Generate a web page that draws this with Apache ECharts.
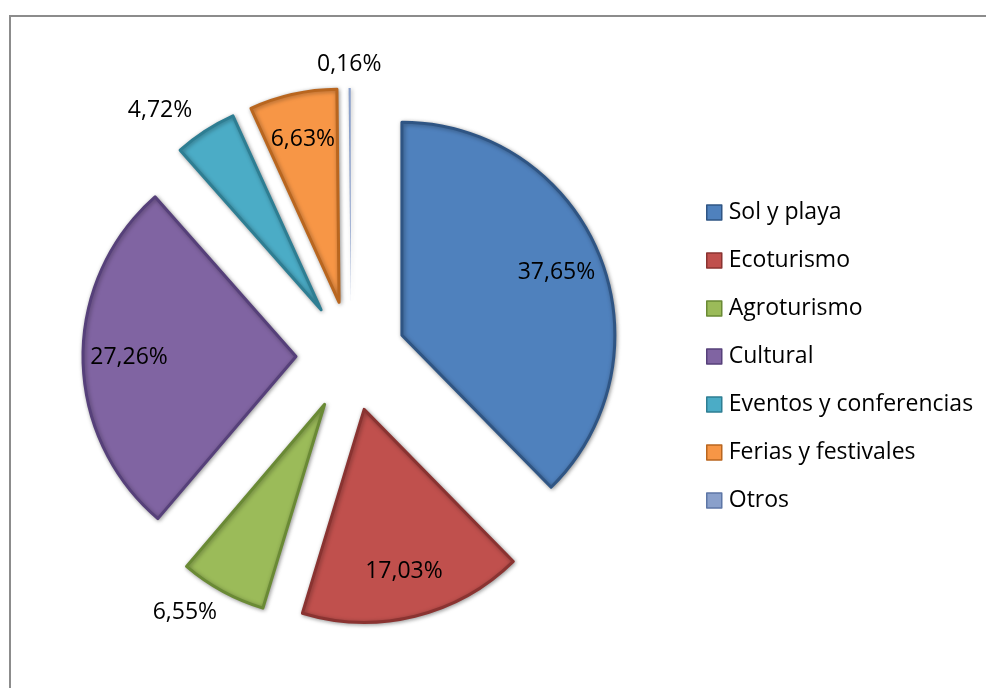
<!DOCTYPE html>
<html>
<head>
<meta charset="utf-8">
<script src="https://cdn.jsdelivr.net/npm/echarts@6/dist/echarts.min.js"></script>
<style>
  html, body { margin: 0; padding: 0; background: #ffffff; }
  #chart { width: 986px; height: 688px; }
</style>
</head>
<body>
<div id="chart"></div>
<script>
// Share of tourism segments (percent)
const categories = ['Sol y playa', 'Ecoturismo', 'Agroturismo', 'Cultural', 'Eventos y conferencias', 'Ferias y festivales', 'Otros'];
const values = [37.65, 17.03, 6.55, 27.26, 4.72, 6.63, 0.16];
const fillColors = ['#4F81BD', '#C0504D', '#9BBB59', '#8064A2', '#4BACC6', '#F79646', '#8AA0CB'];
const edgeColors = ['#2F5584', '#8A3331', '#6A8A35', '#56407A', '#2E7E93', '#B9661F', '#5D76A6'];
// Small slices get their labels outside the pie
const outsideLabels = ['Agroturismo', 'Eventos y conferencias', 'Otros'];

const FONT = '"Open Sans", Lato, sans-serif';
const CENTER = [351, 356];
const RADIUS = 213;
const EXPLODE = 55;

const fmt = v => v.toFixed(2).replace('.', ',') + '%';

const sliceData = categories.map((name, i) => ({
  name,
  value: values[i],
  selected: true,
  itemStyle: {
    color: fillColors[i],
    borderColor: edgeColors[i],
    borderWidth: values[i] < 1 ? 0 : 3
  }
}));

const labelData = categories.map((name, i) => {
  const outside = outsideLabels.includes(name);
  return {
    name,
    value: values[i],
    selected: true,
    label: { position: outside ? 'outside' : 'inside' },
    labelLine: { show: false, length: outside ? 24 : 0, length2: 0 }
  };
});

// nudges for the outside labels: the thinnest slice sits at the very top,
// so its label is centred over it
const labelShift = { 'Otros': 32, 'Agroturismo': 6 };

const chart = echarts.init(document.getElementById('chart'), null, { renderer: 'canvas' });
chart.setOption({
  animation: false,
  backgroundColor: '#ffffff',
  graphic: [{
    type: 'rect',
    shape: { x: 10, y: 16, width: 1000, height: 700 },
    style: { fill: 'none', stroke: '#8c8c8c', lineWidth: 2 },
    silent: true,
    z: -10
  }],
  legend: {
    orient: 'vertical',
    left: 701,
    top: 196,
    itemWidth: 15,
    itemHeight: 15,
    itemGap: 25,
    icon: 'rect',
    selectedMode: false,
    data: categories.map((name, i) => ({
      name,
      itemStyle: { color: fillColors[i], borderColor: edgeColors[i], borderWidth: 1.5 }
    })),
    textStyle: { fontFamily: FONT, fontSize: 23, color: '#000000', padding: [0, 0, 0, 2] }
  },
  series: [
    {
      name: 'segmentos',
      type: 'pie',
      center: CENTER,
      radius: [0, RADIUS],
      startAngle: 90,
      clockwise: true,
      selectedMode: 'multiple',
      selectedOffset: EXPLODE,
      avoidLabelOverlap: false,
      label: { show: false },
      labelLine: { show: false },
      emphasis: { disabled: true },
      itemStyle: {
        shadowBlur: 4,
        shadowColor: 'rgba(0,0,0,0.35)',
        shadowOffsetX: 1,
        shadowOffsetY: 1
      },
      data: sliceData
    },
    {
      name: 'etiquetas',
      type: 'pie',
      center: CENTER,
      radius: [115, RADIUS],
      startAngle: 90,
      clockwise: true,
      selectedMode: 'multiple',
      selectedOffset: EXPLODE,
      avoidLabelOverlap: false,
      silent: true,
      emphasis: { disabled: true },
      itemStyle: { color: 'rgba(0,0,0,0)', borderWidth: 0 },
      label: {
        show: true,
        formatter: p => fmt(p.value),
        fontFamily: FONT,
        fontSize: 23,
        color: '#000000',
        distanceToLabelLine: 0
      },
      labelLayout: p => {
        const dx = labelShift[categories[p.dataIndex]];
        return dx ? { dx } : {};
      },
      data: labelData
    }
  ]
});
</script>
</body>
</html>
